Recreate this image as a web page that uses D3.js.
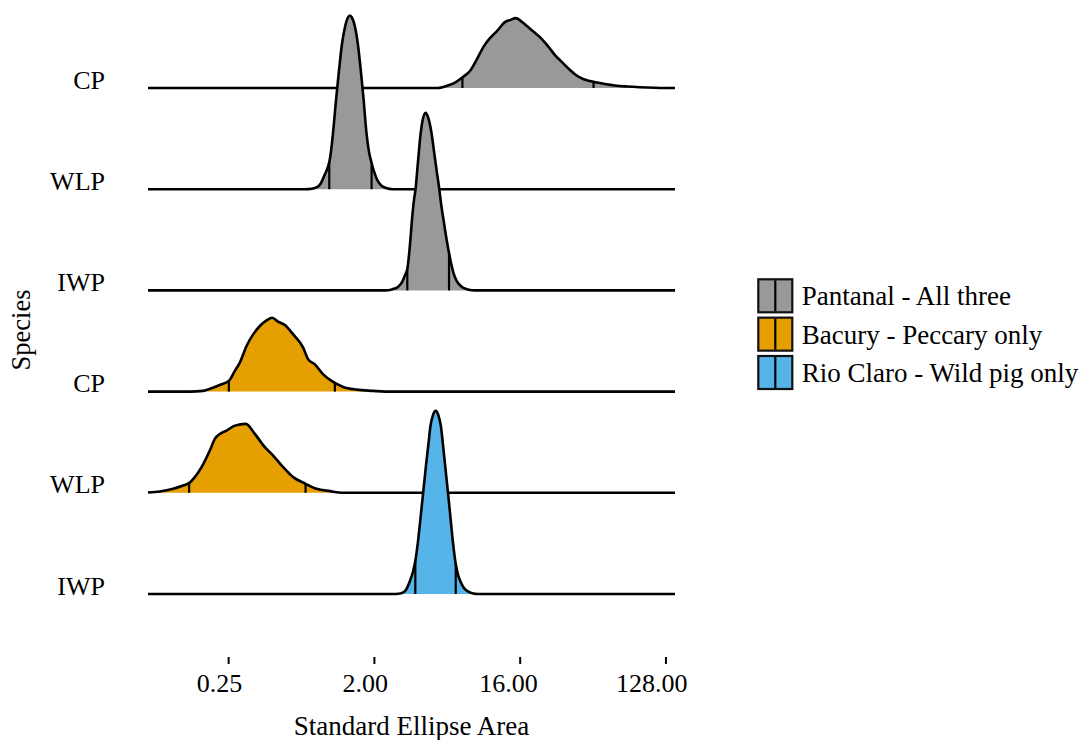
<!DOCTYPE html>
<html>
<head>
<meta charset="utf-8">
<script src="https://cdn.jsdelivr.net/npm/d3@7"></script>
<style>
  body { margin: 0; background: #fff; }
  svg { display: block; }
  svg text { font-family: "Liberation Serif", "Times New Roman", Times, serif; fill: #000; }
</style>
</head>
<body>
<svg id="chart" width="1086" height="740"></svg>
<script>
// Posterior Standard Ellipse Area (SEA) distributions per species and site.
// Rows are listed top to bottom.
const species = ["CP", "WLP", "IWP", "CP", "WLP", "IWP"];
const rowSite = [
  "Pantanal - All three", "Pantanal - All three", "Pantanal - All three",
  "Bacury - Peccary only", "Bacury - Peccary only", "Rio Claro - Wild pig only"
];
const siteLevels = ["Pantanal - All three", "Bacury - Peccary only", "Rio Claro - Wild pig only"];
const siteColors = ["#999999", "#E69F00", "#56B4E9"];

// Shared range over which densities were estimated (SEA units)
const seaExtent = [0.0797, 146.7];
const xTicks = [0.25, 2, 16, 128];

// Density estimates (on the log2 scale) sampled along SEA
const cpPantanalSEA = [4.98, 5.75, 6.44, 7.12, 7.87, 8.70, 9.61, 10.47, 11.57, 12.97, 13.93, 15.17, 16.29, 17.75, 19.62, 21.67, 23.95, 26.47, 29.26, 32.3, 35.7, 39.5, 43.6, 48.2, 54.0, 62.3, 74.0, 89.0, 110, 140.6];
const cpPantanalDensity = [0, 0.025, 0.06, 0.11, 0.17, 0.29, 0.42, 0.50, 0.57, 0.66, 0.68, 0.70, 0.67, 0.62, 0.56, 0.50, 0.42, 0.33, 0.26, 0.19, 0.13, 0.09, 0.07, 0.055, 0.04, 0.025, 0.015, 0.008, 0.003, 0];

const wlpPantanalSEA = [0.747, 0.826, 0.887, 0.939, 0.994, 1.037, 1.067, 1.114, 1.163, 1.214, 1.267, 1.322, 1.380, 1.420, 1.461, 1.525, 1.592, 1.661, 1.722, 1.797, 1.862, 1.930, 2.000, 2.087, 2.210, 2.373, 2.623];
const wlpPantanalDensity = [0, 0.005, 0.02, 0.06, 0.15, 0.22, 0.30, 0.55, 0.88, 1.18, 1.45, 1.62, 1.72, 1.74, 1.72, 1.63, 1.45, 1.18, 0.92, 0.57, 0.38, 0.27, 0.18, 0.10, 0.04, 0.012, 0];

const iwpPantanalSEA = [2.340, 2.585, 2.816, 2.982, 3.112, 3.226, 3.343, 3.439, 3.539, 3.626, 3.747, 3.894, 4.024, 4.182, 4.321, 4.556, 4.708, 4.914, 5.078, 5.203, 5.431, 5.668, 5.832, 6.001, 6.264, 6.538, 7.022, 7.649, 8.452];
const iwpPantanalDensity = [0, 0.01, 0.035, 0.08, 0.15, 0.22, 0.45, 0.70, 0.90, 1.02, 1.28, 1.57, 1.72, 1.78, 1.74, 1.57, 1.40, 1.18, 1.02, 0.88, 0.68, 0.49, 0.38, 0.28, 0.16, 0.09, 0.035, 0.01, 0];

const cpBacurySEA = [0.1447, 0.1750, 0.1973, 0.2275, 0.2525, 0.2751, 0.2954, 0.3251, 0.3572, 0.3930, 0.4324, 0.4685, 0.5103, 0.5616, 0.6322, 0.7292, 0.7831, 0.8618, 0.9699, 1.0934, 1.2903, 1.5622, 1.9799, 2.3396];
const cpBacuryDensity = [0, 0.007, 0.033, 0.073, 0.107, 0.207, 0.29, 0.457, 0.573, 0.657, 0.713, 0.74, 0.70, 0.667, 0.573, 0.44, 0.323, 0.273, 0.173, 0.107, 0.047, 0.02, 0.007, 0];

const wlpBacurySEA = [0.0797, 0.0943, 0.1141, 0.1315, 0.1433, 0.1554, 0.1711, 0.1925, 0.2068, 0.2221, 0.2444, 0.2751, 0.3219, 0.3659, 0.4221, 0.4752, 0.5481, 0.6322, 0.7546, 0.8829, 1.0672, 1.2903];
const wlpBacuryDensity = [0.003, 0.013, 0.04, 0.073, 0.097, 0.157, 0.257, 0.423, 0.54, 0.59, 0.623, 0.673, 0.69, 0.59, 0.457, 0.373, 0.257, 0.157, 0.09, 0.04, 0.017, 0];

const iwpRioClaroSEA = [2.737, 2.956, 3.157, 3.352, 3.489, 3.611, 3.747, 3.894, 4.053, 4.200, 4.352, 4.478, 4.641, 4.831, 5.020, 5.203, 5.354, 5.532, 5.750, 5.958, 6.175, 6.427, 6.679, 6.922, 7.225, 7.649, 8.250, 8.821];
const iwpRioClaroDensity = [0, 0.007, 0.04, 0.135, 0.22, 0.33, 0.52, 0.77, 1.04, 1.28, 1.50, 1.68, 1.79, 1.835, 1.79, 1.68, 1.50, 1.28, 1.02, 0.77, 0.52, 0.30, 0.18, 0.115, 0.06, 0.027, 0.005, 0];

// 2.5% and 97.5% posterior quantiles per row
const q025 = [7.07, 1.058, 3.221, 0.2525, 0.1433, 3.611];
const q975 = [45.9, 1.935, 5.840, 1.146, 0.7546, 6.427];

const rowSEA = [cpPantanalSEA, wlpPantanalSEA, iwpPantanalSEA, cpBacurySEA, wlpBacurySEA, iwpRioClaroSEA];
const rowDensity = [cpPantanalDensity, wlpPantanalDensity, iwpPantanalDensity, cpBacuryDensity, wlpBacuryDensity, iwpRioClaroDensity];

const ridges = species.map((sp, i) => ({
  index: i, species: sp, site: rowSite[i],
  sea: rowSEA[i], dens: rowDensity[i], q: [q025[i], q975[i]]
}));

// ---- layout ----
const FONT = '"Liberation Serif", "Times New Roman", Times, serif';
const ridgeScale = 1.81;   // ridge height relative to row spacing
const svg = d3.select("#chart");

const x = d3.scaleLog().base(2).domain(seaExtent).range([148, 675]);
const y = d3.scalePoint().domain(d3.range(species.length)).range([88, 594]);
const step = y.step();
const maxDensity = d3.max(ridges, r => d3.max(r.dens));
const hgt = d3.scaleLinear().domain([0, maxDensity]).range([0, ridgeScale * step]);
const color = d3.scaleOrdinal().domain(siteLevels).range(siteColors);

// density at a given SEA value, interpolated on the log2 axis
function densityAt(r, s) {
  const ls = Math.log2(s);
  for (let k = 0; k < r.sea.length - 1; k++) {
    const a = Math.log2(r.sea[k]), b = Math.log2(r.sea[k + 1]);
    if (ls >= a && ls <= b) {
      const t = (ls - a) / (b - a);
      return r.dens[k] + t * (r.dens[k + 1] - r.dens[k]);
    }
  }
  return 0;
}

const ridgeLayer = svg.append("g");
ridges.forEach(r => {
  const base = y(r.index);
  const pts = r.sea.map((s, k) => [x(s), base - hgt(r.dens[k])]);
  if (r.sea[0] > seaExtent[0]) pts.unshift([x(seaExtent[0]), base]);
  if (r.sea[r.sea.length - 1] < seaExtent[1]) pts.push([x(seaExtent[1]), base]);

  const g = ridgeLayer.append("g");
  const area = d3.area().x(d => d[0]).y0(base).y1(d => d[1]).curve(d3.curveMonotoneX);
  g.append("path").attr("d", area(pts)).attr("fill", color(r.site)).attr("stroke", "none");

  g.selectAll("line.q").data(r.q).join("line")
    .attr("class", "q")
    .attr("x1", d => x(d)).attr("x2", d => x(d))
    .attr("y1", base).attr("y2", d => base - hgt(densityAt(r, d)))
    .attr("stroke", "#000").attr("stroke-width", 2.2);

  const line = d3.line().curve(d3.curveMonotoneX);
  g.append("path").attr("d", line(pts))
    .attr("fill", "none").attr("stroke", "#000")
    .attr("stroke-width", 2.6).attr("stroke-linejoin", "round");
});

// ---- x axis ----
const xAxis = d3.axisBottom(x).tickValues(xTicks).tickFormat(d3.format(".2f"))
  .tickSize(7).tickPadding(10);
const gx = svg.append("g").attr("transform", "translate(0,657)").call(xAxis)
  .attr("font-family", null).attr("font-size", null);
gx.select(".domain").remove();
gx.selectAll(".tick line").attr("stroke", "#000").attr("stroke-width", 2);
gx.selectAll(".tick text")
  .style("font-family", FONT).style("font-size", "26px").attr("fill", "#000")
  .attr("text-anchor", "start")
  .attr("x", function () { return -0.7 * this.getComputedTextLength(); });

// ---- y axis (row labels sit on each ridge baseline) ----
const yAxis = d3.axisLeft(y).tickFormat(i => species[i]).tickSize(0).tickPadding(43);
const gy = svg.append("g").attr("transform", "translate(148,0)").call(yAxis)
  .attr("font-family", null).attr("font-size", null);
gy.select(".domain").remove();
gy.selectAll(".tick text").attr("dy", 0).style("font-family", FONT).style("font-size", "26px").attr("fill", "#000");

// ---- axis titles ----
svg.append("text")
  .attr("x", 411.5).attr("y", 735)
  .attr("text-anchor", "middle")
  .style("font-family", FONT).style("font-size", "27px")
  .text("Standard Ellipse Area");

svg.append("text")
  .attr("transform", "translate(30,330) rotate(-90)")
  .attr("text-anchor", "middle")
  .style("font-family", FONT).style("font-size", "26.5px")
  .text("Species");

// ---- legend ----
const keyW = 36, keyH = 35, keyStep = 38.35;
const legend = svg.append("g").attr("transform", "translate(757.3,278.3)");
const items = legend.selectAll("g.item").data(siteLevels).join("g")
  .attr("class", "item")
  .attr("transform", (d, i) => `translate(0,${i * keyStep})`);
items.append("rect")
  .attr("x", 1).attr("y", 1).attr("width", keyW - 2).attr("height", keyH - 2)
  .attr("fill", d => color(d)).attr("stroke", "#111").attr("stroke-width", 2.2);
items.append("line")
  .attr("x1", keyW / 2).attr("x2", keyW / 2).attr("y1", 2).attr("y2", keyH - 2)
  .attr("stroke", "#000").attr("stroke-width", 2.2);
items.append("text")
  .attr("x", 44.4).attr("y", keyH / 2 + 9.5)
  .style("font-family", FONT).style("font-size", "27px")
  .text(d => d);
</script>
</body>
</html>
